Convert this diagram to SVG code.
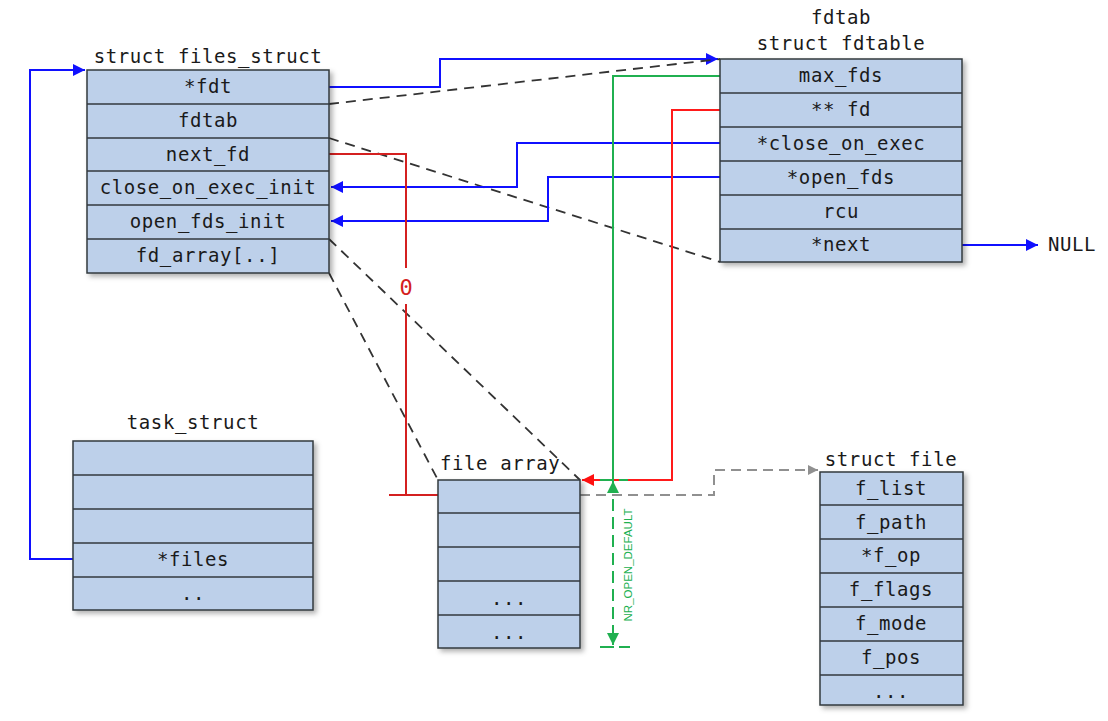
<svg xmlns="http://www.w3.org/2000/svg" width="1108" height="721" viewBox="0 0 1108 721">
<defs>
<filter id="sh" x="-10%" y="-10%" width="130%" height="130%"><feDropShadow dx="3" dy="3" stdDeviation="2.5" flood-color="#000" flood-opacity="0.3"/></filter>
<marker id="ab" viewBox="0 0 10 10" refX="10" refY="5" markerWidth="7" markerHeight="6" orient="auto"><path d="M0,0 L10,5 L0,10 z" fill="#1010ff"/></marker>
<marker id="ar" viewBox="0 0 10 10" refX="10" refY="5" markerWidth="7" markerHeight="6" orient="auto"><path d="M0,0 L10,5 L0,10 z" fill="#ff1010"/></marker>
<marker id="ag" viewBox="0 0 10 10" refX="10" refY="5" markerWidth="7" markerHeight="6" orient="auto-start-reverse"><path d="M0,0 L10,5 L0,10 z" fill="#20b050"/></marker>
<marker id="agr" viewBox="0 0 10 10" refX="10" refY="5" markerWidth="6" markerHeight="5" orient="auto"><path d="M0,0 L10,5 L0,10 z" fill="#909090"/></marker>
</defs>
<style>
.box{fill:#bdd0ea;stroke:#33393f;stroke-width:1.5}
.row{stroke:#33393f;stroke-width:1.5}
text{font-family:"DejaVu Sans Mono","Liberation Mono",monospace;font-size:19px;fill:#1a1a1a;letter-spacing:0.6px}
.c{text-anchor:middle}
.blue{fill:none;stroke:#1010ff;stroke-width:2}
.red{fill:none;stroke:#ff1a1a;stroke-width:2}
.dred{fill:none;stroke:#d42020;stroke-width:2}
.green{fill:none;stroke:#20b050;stroke-width:2}
.dash{fill:none;stroke:#333;stroke-width:1.8;stroke-dasharray:10,7}
.gray{fill:none;stroke:#909090;stroke-width:2;stroke-dasharray:10,6}
</style>

<g id="connectors">
<path class="blue" d="M73,559 H30 V70 H85" marker-end="url(#ab)"/>
<path class="blue" d="M329,87 H440 V59 H718" marker-end="url(#ab)"/>
<path class="dash" d="M329,104 L720,59"/>
<path class="dash" d="M329,138 L720,262"/>
<path class="dash" d="M329,239 L580,480"/>
<path class="dash" d="M329,273 L438,480"/>
<path class="blue" d="M720,143 H517 V187 H331" marker-end="url(#ab)"/>
<path class="blue" d="M720,177 H548 V221 H331" marker-end="url(#ab)"/>
<path class="blue" d="M962,245 H1038" marker-end="url(#ab)"/>
<path class="green" d="M720,76 H613 V480"/>
<path class="red" d="M720,110 H672 V480 H582" marker-end="url(#ar)"/>
<path class="dred" d="M329,154 H406 V268 M406,304 V495 M389,495 H438"/>
<path class="gray" d="M580,495 H714 V470 H818" marker-end="url(#agr)"/>
<path class="green" d="M613,481 V645" stroke-dasharray="12,6" marker-start="url(#ag)" marker-end="url(#ag)"/>
<path class="green" d="M600,480 H628 M600,647 H630" stroke-dasharray="14,5"/>
<text x="406" y="295" class="c" style="font-size:22px;fill:#d42020;letter-spacing:0">0</text>
<text x="1048" y="251">NULL</text>
<text transform="translate(632,565) rotate(-90)" class="c" style="font-family:'Liberation Sans','Arial',sans-serif;font-size:11.5px;fill:#20b050;letter-spacing:0">NR_OPEN_DEFAULT</text>
</g>

<g id="files_struct">
<text x="208" y="63" class="c">struct files_struct</text>
<rect class="box" x="87" y="70" width="242" height="203" filter="url(#sh)"/>
<path class="row" d="M87,104 H329 M87,138 H329 M87,171 H329 M87,205 H329 M87,239 H329"/>
<text x="208" y="93" class="c">*fdt</text>
<text x="208" y="127" class="c">fdtab</text>
<text x="208" y="161" class="c">next_fd</text>
<text x="208" y="194" class="c">close_on_exec_init</text>
<text x="208" y="228" class="c">open_fds_init</text>
<text x="208" y="262" class="c">fd_array[..]</text>
</g>

<g id="fdtable">
<text x="841" y="24" class="c">fdtab</text>
<text x="841" y="50" class="c">struct fdtable</text>
<rect class="box" x="720" y="59" width="242" height="203" filter="url(#sh)"/>
<path class="row" d="M720,93 H962 M720,127 H962 M720,161 H962 M720,195 H962 M720,229 H962"/>
<text x="841" y="82" class="c">max_fds</text>
<text x="841" y="116" class="c">** fd</text>
<text x="841" y="150" class="c">*close_on_exec</text>
<text x="841" y="184" class="c">*open_fds</text>
<text x="841" y="218" class="c">rcu</text>
<text x="841" y="251" class="c">*next</text>
</g>

<g id="task_struct">
<text x="193" y="429" class="c">task_struct</text>
<rect class="box" x="73" y="441" width="240" height="169" filter="url(#sh)"/>
<path class="row" d="M73,475 H313 M73,509 H313 M73,543 H313 M73,577 H313"/>
<text x="193" y="566" class="c">*files</text>
<text x="193" y="600" class="c">..</text>
</g>

<g id="file_array">
<text x="440" y="470">file array</text>
<rect class="box" x="438" y="480" width="142" height="168" filter="url(#sh)"/>
<path class="row" d="M438,513 H580 M438,547 H580 M438,581 H580 M438,615 H580"/>
<text x="509" y="605" class="c">...</text>
<text x="509" y="639" class="c">...</text>
</g>

<g id="struct_file">
<text x="891" y="466" class="c">struct file</text>
<rect class="box" x="820" y="472" width="143" height="233" filter="url(#sh)"/>
<path class="row" d="M820,505 H963 M820,539 H963 M820,573 H963 M820,607 H963 M820,641 H963 M820,675 H963"/>
<text x="891" y="495" class="c">f_list</text>
<text x="891" y="529" class="c">f_path</text>
<text x="891" y="562" class="c">*f_op</text>
<text x="891" y="596" class="c">f_flags</text>
<text x="891" y="630" class="c">f_mode</text>
<text x="891" y="664" class="c">f_pos</text>
<text x="891" y="698" class="c">...</text>
</g>
</svg>
